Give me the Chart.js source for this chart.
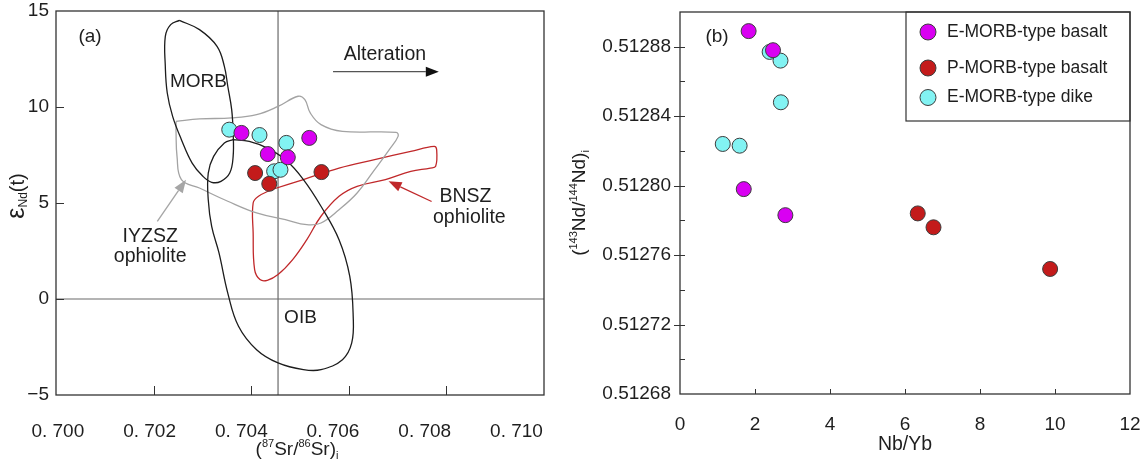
<!DOCTYPE html>
<html lang="en">
<head>
    <meta charset="UTF-8">
    <title>Sr-Nd isotopes and Nb/Yb</title>
    <script src="https://cdn.jsdelivr.net/npm/chart.js"></script>
    <style>
        body { margin: 0; background: #fff; }
        .panel { position: absolute; top: 0; }
        #leftPanel { left: 0; }
        #rightPanel { left: 566px; }
    </style>
</head>
<body>

    <div class="panel" id="leftPanel"><canvas id="srNdChart" width="566" height="459"></canvas></div>
    <div class="panel" id="rightPanel"><canvas id="nbYbChart" width="580" height="459"></canvas></div>

    <script>
        const FONT = "'Liberation Sans', Arial, sans-serif";
        const MAGENTA = '#d900f2';
        const RED = '#c31b1b';
        const CYAN = '#82f3f3';

        // (a) eNd(t) vs (87Sr/86Sr)i
        const srEmorbBasalt = [0.70380, 0.70434, 0.70475, 0.70519];
        const ndEmorbBasalt = [8.65, 7.55, 7.38, 8.39];
        const srPmorbBasalt = [0.70408, 0.70437, 0.70544];
        const ndPmorbBasalt = [6.56, 6.00, 6.61];
        const srEmorbDike = [0.70355, 0.70417, 0.70472, 0.70447, 0.70460];
        const ndEmorbDike = [8.82, 8.54, 8.13, 6.65, 6.73];

        const srTicks = [0.700, 0.702, 0.704, 0.706, 0.708, 0.710];
        const srTickLabels = ['0. 700', '0. 702', '0. 704', '0. 706', '0. 708', '0. 710'];
        const eNdTicks = [-5, 0, 5, 10, 15];
        const eNdTickLabels = ['\u22125', '0', '5', '10', '15'];
        const srBulkEarth = 0.70455;

        // field outlines [Sr, eNd]
        const morbField = [[0.70253, 14.51], [0.70294, 14.03], [0.70330, 13.16], [0.70345, 12.12], [0.70352, 11.08],
            [0.70360, 9.86], [0.70363, 8.65], [0.70363, 7.43], [0.70356, 6.56], [0.70338, 6.13], [0.70319, 6.08],
            [0.70301, 6.39], [0.70279, 7.08], [0.70257, 8.30], [0.70239, 9.51], [0.70228, 10.73], [0.70224, 12.12],
            [0.70224, 13.68], [0.70235, 14.29]];
        const oibField = [[0.70363, 8.30], [0.70396, 8.21], [0.70433, 7.86], [0.70470, 7.26], [0.70507, 6.22],
            [0.70543, 4.83], [0.70580, 3.09], [0.70602, 1.18], [0.70609, -0.90], [0.70606, -2.29], [0.70587, -3.16],
            [0.70543, -3.68], [0.70507, -3.68], [0.70455, -3.33], [0.70411, -2.64], [0.70374, -1.42], [0.70352, 0.31],
            [0.70334, 2.40], [0.70319, 3.78], [0.70312, 5.17], [0.70312, 6.56], [0.70323, 7.43], [0.70345, 8.13]];
        const iyzszField = [[0.70246, 9.25], [0.70294, 9.38], [0.70360, 9.43], [0.70411, 9.60], [0.70455, 10.03],
            [0.70496, 10.56], [0.70510, 10.38], [0.70521, 9.69], [0.70543, 9.08], [0.70587, 8.73], [0.70697, 8.68],
            [0.70701, 8.47], [0.70683, 7.78], [0.70653, 6.74], [0.70617, 5.52], [0.70580, 4.65], [0.70543, 3.96],
            [0.70514, 3.87], [0.70470, 4.13], [0.70411, 4.48], [0.70352, 5.09], [0.70294, 5.78], [0.70257, 6.22],
            [0.70248, 7.43], [0.70246, 8.65]];
        const bnszField = [[0.70441, 5.69], [0.70507, 6.22], [0.70580, 6.82], [0.70653, 7.26], [0.70727, 7.69],
            [0.70775, 7.95], [0.70780, 7.78], [0.70778, 6.91], [0.70767, 6.82], [0.70727, 6.65], [0.70675, 6.22],
            [0.70617, 5.87], [0.70580, 5.35], [0.70543, 4.31], [0.70514, 3.09], [0.70485, 2.05], [0.70455, 1.27],
            [0.70433, 0.97], [0.70418, 1.01], [0.70407, 1.53], [0.70404, 3.44], [0.70404, 5.00], [0.70415, 5.35]];

        // (b) (143Nd/144Nd)i vs Nb/Yb
        const nbYbEmorbBasalt = [1.83, 2.48, 1.70, 2.81];
        const ndRatioEmorbBasalt = [0.512889, 0.512878, 0.512798, 0.512783];
        const nbYbPmorbBasalt = [6.34, 6.76, 9.87];
        const ndRatioPmorbBasalt = [0.512784, 0.512776, 0.512752];
        const nbYbEmorbDike = [2.39, 2.68, 2.69, 1.14, 1.59];
        const ndRatioEmorbDike = [0.512877, 0.512872, 0.512848, 0.512824, 0.512823];

        const nbYbTicks = [0, 2, 4, 6, 8, 10, 12];
        const ndRatioTicks = [0.51268, 0.51272, 0.51276, 0.51280, 0.51284, 0.51288];
        const ndRatioMinor = [0.51270, 0.51274, 0.51278, 0.51282, 0.51286];

        function pointSet(label, xs, ys, color) {
            return {
                label: label,
                data: xs.map((x, i) => ({ x: x, y: ys[i] })),
                backgroundColor: color,
                borderColor: '#3c3c3c',
                borderWidth: 1,
                pointRadius: 7.5,
                order: 0
            };
        }

        function fieldSet(label, pts, color) {
            return {
                label: label,
                data: pts.concat([pts[0]]).map(p => ({ x: p[0], y: p[1] })),
                showLine: true,
                tension: 0.4,
                borderColor: color,
                borderWidth: 1.3,
                pointRadius: 0,
                fill: false,
                order: 1
            };
        }

        function refLine(pts) {
            return {
                data: pts.map(p => ({ x: p[0], y: p[1] })),
                showLine: true,
                borderColor: '#6a6a6a',
                borderWidth: 1.2,
                pointRadius: 0,
                order: 2
            };
        }

        // fixed axis boxes, no extra padding for overhanging labels
        const fixHeight = h => s => { s.height = h; s.paddingLeft = 0; s.paddingRight = 0; };
        const fixWidth = w => s => { s.width = w; s.paddingTop = 0; s.paddingBottom = 0; };

        // draw text made of pieces (superscripts / subscripts), centred on x,y
        function richText(ctx, x, y, parts, rotate) {
            ctx.save();
            ctx.translate(x, y);
            if (rotate) ctx.rotate(-Math.PI / 2);
            let w = 0;
            parts.forEach(p => { ctx.font = p.size + 'px ' + FONT; w += ctx.measureText(p.t).width; });
            let cx = -w / 2;
            ctx.fillStyle = '#1e1e1e';
            ctx.textBaseline = 'alphabetic';
            parts.forEach(p => {
                ctx.font = p.size + 'px ' + FONT;
                ctx.fillText(p.t, cx, 7 + (p.dy || 0));
                cx += ctx.measureText(p.t).width;
            });
            ctx.restore();
        }

        function label(ctx, text, x, y, size, color) {
            ctx.save();
            ctx.font = size + 'px ' + FONT;
            ctx.fillStyle = color || '#1e1e1e';
            ctx.textAlign = 'center';
            ctx.textBaseline = 'middle';
            ctx.fillText(text, x, y);
            ctx.restore();
        }

        function arrow(ctx, x1, y1, x2, y2, lineColor, headColor) {
            const ang = Math.atan2(y2 - y1, x2 - x1), head = 13, half = 5;
            const bx = x2 - head * Math.cos(ang), by = y2 - head * Math.sin(ang);
            ctx.save();
            ctx.strokeStyle = lineColor;
            ctx.fillStyle = headColor || lineColor;
            ctx.lineWidth = 1.3;
            ctx.beginPath();
            ctx.moveTo(x1, y1);
            ctx.lineTo(bx, by);
            ctx.stroke();
            ctx.beginPath();
            ctx.moveTo(x2, y2);
            ctx.lineTo(bx + half * Math.sin(ang), by - half * Math.cos(ang));
            ctx.lineTo(bx - half * Math.sin(ang), by + half * Math.cos(ang));
            ctx.closePath();
            ctx.fill();
            ctx.restore();
        }

        function frameAndTicks(chart, xTicks, xLen, yTicks, yLen, yMinor) {
            const { ctx, chartArea: a } = chart;
            const sx = chart.scales.x, sy = chart.scales.y;
            ctx.save();
            ctx.strokeStyle = '#333';
            ctx.lineWidth = 1.3;
            ctx.strokeRect(a.left, a.top, a.right - a.left, a.bottom - a.top);
            ctx.lineWidth = 1;
            ctx.beginPath();
            xTicks.forEach(v => {
                const p = Math.round(sx.getPixelForValue(v)) + 0.5;
                ctx.moveTo(p, a.bottom);
                ctx.lineTo(p, a.bottom - xLen);
            });
            yTicks.concat(yMinor || []).forEach(v => {
                const p = Math.round(sy.getPixelForValue(v)) + 0.5;
                ctx.moveTo(a.left, p);
                ctx.lineTo(a.left + yLen, p);
            });
            ctx.stroke();
            ctx.restore();
        }

        const tickFont = { family: FONT, size: 19 };

        // ---- (a) ----
        const leftDecor = {
            id: 'leftDecor',
            afterDraw(chart) {
                const { ctx, chartArea: a } = chart;
                const sx = chart.scales.x, sy = chart.scales.y;
                const px = v => sx.getPixelForValue(v), py = v => sy.getPixelForValue(v);
                frameAndTicks(chart, srTicks.slice(1, -1), 9, eNdTicks.slice(1, -1), 8);

                richText(ctx, 297, 448, [
                    { t: '(', size: 19 }, { t: '87', size: 11, dy: -8 }, { t: 'Sr/', size: 19 },
                    { t: '86', size: 11, dy: -8 }, { t: 'Sr)', size: 19 }, { t: 'i', size: 11, dy: 4 }
                ]);
                richText(ctx, 17, 196, [
                    { t: '\u03b5', size: 25 }, { t: 'Nd', size: 12, dy: 3 }, { t: '(t)', size: 20 }
                ], true);

                label(ctx, '(a)', a.left + 34, a.top + 26, 19);
                label(ctx, 'MORB', px(0.70292), py(11.33), 19);
                label(ctx, 'OIB', px(0.70501), py(-0.99), 19);
                label(ctx, 'Alteration', px(0.70674), py(12.72), 19.5);
                label(ctx, 'IYZSZ', px(0.70193), py(3.26), 19.5);
                label(ctx, 'ophiolite', px(0.70193), py(2.22), 19.5);
                label(ctx, 'BNSZ', px(0.70839), py(5.34), 19.5);
                label(ctx, 'ophiolite', px(0.70847), py(4.22), 19.5);

                arrow(ctx, px(0.705677), py(11.84), px(0.707845), py(11.84), '#555', '#111');
                arrow(ctx, px(0.702076), py(4.04), px(0.702664), py(6.21), '#a6a6a6');
                arrow(ctx, px(0.707697), py(5.08), px(0.706815), py(6.13), '#c0282a');
            }
        };

        new Chart(document.getElementById('srNdChart'), {
            type: 'scatter',
            data: {
                datasets: [
                    pointSet('E-MORB-type basalt', srEmorbBasalt, ndEmorbBasalt, MAGENTA),
                    pointSet('P-MORB-type basalt', srPmorbBasalt, ndPmorbBasalt, RED),
                    pointSet('E-MORB-type dike', srEmorbDike, ndEmorbDike, CYAN),
                    fieldSet('MORB', morbField, '#1c1c1c'),
                    fieldSet('OIB', oibField, '#1c1c1c'),
                    fieldSet('IYZSZ ophiolite', iyzszField, '#a3a3a3'),
                    fieldSet('BNSZ ophiolite', bnszField, '#c0282a'),
                    refLine([[srBulkEarth, -5], [srBulkEarth, 15]]),
                    refLine([[0.700, 0], [0.710, 0]])
                ]
            },
            options: {
                responsive: false,
                animation: false,
                layout: { padding: { left: 0, right: 22, top: 11, bottom: 0 } },
                plugins: { legend: { display: false }, tooltip: { enabled: false } },
                scales: {
                    x: {
                        type: 'linear', min: 0.700, max: 0.710,
                        grid: { display: false, drawTicks: false },
                        border: { display: false },
                        afterBuildTicks: s => { s.ticks = srTicks.map(v => ({ value: v })); },
                        afterFit: fixHeight(0),
                        ticks: { display: false }
                    },
                    // the printed labels of the original sit a little off their tick marks,
                    // so they get their own slightly stretched label axis
                    xLabels: {
                        type: 'linear', position: 'bottom', min: 0.69996, max: 0.71060,
                        grid: { display: false, drawTicks: false },
                        border: { display: false },
                        afterBuildTicks: s => { s.ticks = srTicks.map(v => ({ value: v })); },
                        afterFit: fixHeight(64),
                        ticks: {
                            font: tickFont, color: '#1e1e1e', padding: 25,
                            maxRotation: 0, autoSkip: false,
                            callback: v => srTickLabels[srTicks.indexOf(v)]
                        }
                    },
                    y: {
                        type: 'linear', min: -5, max: 15,
                        grid: { display: false, drawTicks: false },
                        border: { display: false },
                        afterBuildTicks: s => { s.ticks = eNdTicks.map(v => ({ value: v })); },
                        afterFit: fixWidth(56),
                        ticks: {
                            font: tickFont, color: '#1e1e1e', padding: 7,
                            callback: v => eNdTickLabels[eNdTicks.indexOf(v)]
                        }
                    }
                }
            },
            plugins: [leftDecor]
        });

        // ---- (b) ----
        const rightDecor = {
            id: 'rightDecor',
            afterDraw(chart) {
                const { ctx, chartArea: a } = chart;
                frameAndTicks(chart, nbYbTicks.slice(1, -1), 5, ndRatioTicks.slice(1), 5, ndRatioMinor);

                // major ticks also cross outside
                const sy = chart.scales.y;
                ctx.save();
                ctx.strokeStyle = '#333';
                ctx.beginPath();
                ndRatioTicks.slice(1).forEach(v => {
                    const p = Math.round(sy.getPixelForValue(v)) + 0.5;
                    ctx.moveTo(a.left - 6, p);
                    ctx.lineTo(a.left, p);
                });
                ctx.stroke();
                ctx.restore();

                richText(ctx, 905 - 566, 443, [{ t: 'Nb/Yb', size: 19.5 }]);
                richText(ctx, 12, 203, [
                    { t: '(', size: 19 }, { t: '143', size: 11, dy: -8 }, { t: 'Nd/', size: 19 },
                    { t: '144', size: 11, dy: -8 }, { t: 'Nd)', size: 19 }, { t: 'i', size: 11, dy: 4 }
                ], true);

                label(ctx, '(b)', a.left + 37, a.top + 25, 19);

                // legend box in upper right
                const bw = 224, bh = 109, bx = a.right - bw, by = a.top;
                ctx.save();
                ctx.strokeStyle = '#333';
                ctx.lineWidth = 1.2;
                ctx.strokeRect(bx, by, bw, bh);
                const rows = [20, 56, 85.5];
                chart.data.datasets.forEach((d, i) => {
                    ctx.beginPath();
                    ctx.arc(bx + 22, by + rows[i], 8, 0, Math.PI * 2);
                    ctx.fillStyle = d.backgroundColor;
                    ctx.fill();
                    ctx.strokeStyle = '#3c3c3c';
                    ctx.lineWidth = 1;
                    ctx.stroke();
                    ctx.fillStyle = '#1e1e1e';
                    ctx.font = '17.5px ' + FONT;
                    ctx.textBaseline = 'middle';
                    ctx.textAlign = 'left';
                    ctx.fillText(d.label, bx + 41, by + rows[i]);
                });
                ctx.restore();
            }
        };

        new Chart(document.getElementById('nbYbChart'), {
            type: 'scatter',
            data: {
                datasets: [
                    pointSet('E-MORB-type basalt', nbYbEmorbBasalt, ndRatioEmorbBasalt, MAGENTA),
                    pointSet('P-MORB-type basalt', nbYbPmorbBasalt, ndRatioPmorbBasalt, RED),
                    pointSet('E-MORB-type dike', nbYbEmorbDike, ndRatioEmorbDike, CYAN)
                ]
            },
            options: {
                responsive: false,
                animation: false,
                layout: { padding: { left: 0, right: 16, top: 12, bottom: 0 } },
                plugins: { legend: { display: false }, tooltip: { enabled: false } },
                scales: {
                    x: {
                        type: 'linear', min: 0, max: 12,
                        grid: { display: false, drawTicks: false },
                        border: { display: false },
                        afterBuildTicks: s => { s.ticks = nbYbTicks.map(v => ({ value: v })); },
                        afterFit: fixHeight(65),
                        ticks: { font: tickFont, color: '#1e1e1e', padding: 19, maxRotation: 0, autoSkip: false }
                    },
                    y: {
                        type: 'linear', min: 0.51268, max: 0.5129,
                        grid: { display: false, drawTicks: false },
                        border: { display: false },
                        afterBuildTicks: s => { s.ticks = ndRatioTicks.map(v => ({ value: v })); },
                        afterFit: fixWidth(114),
                        ticks: {
                            font: tickFont, color: '#1e1e1e', padding: 9,
                            callback: v => v.toFixed(5)
                        }
                    }
                }
            },
            plugins: [rightDecor]
        });
    </script>

</body>
</html>
